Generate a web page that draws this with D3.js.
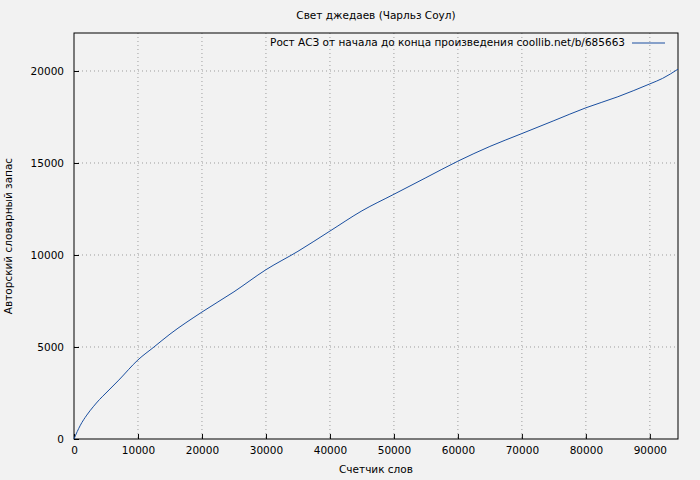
<!DOCTYPE html>
<html lang="ru">
<head>
<meta charset="UTF-8">
<script src="https://d3js.org/d3.v7.min.js"></script>
<style>
body { margin: 0; background: #f2f2f2; }
text { font-family: "DejaVu Sans", sans-serif; font-size: 10.5px; fill: #000; }
</style>
</head>
<body>
<script>
var words = [0, 500, 1000, 2000, 3000, 4000, 5000, 7000, 10000, 12500, 15000, 20000, 25000, 30000, 35000, 40000, 45000, 50000, 55000, 60000, 65000, 70000, 75000, 80000, 85000, 90000, 92000, 94400];
var vocab = [0, 400, 750, 1300, 1750, 2150, 2500, 3200, 4300, 5000, 5700, 6900, 8000, 9200, 10200, 11300, 12400, 13300, 14200, 15100, 15900, 16600, 17300, 18000, 18600, 19300, 19600, 20100];
var xTicks = [0, 10000, 20000, 30000, 40000, 50000, 60000, 70000, 80000, 90000];
var yTicks = [0, 5000, 10000, 15000, 20000];

var width = 700, height = 480;
var m = { left: 74, right: 22, top: 33, bottom: 41 };

var svg = d3.select("body").append("svg")
    .attr("width", width).attr("height", height);
svg.append("rect").attr("width", width).attr("height", height).attr("fill", "#f2f2f2");

var x = d3.scaleLinear().domain([0, 94400]).range([m.left, width - m.right]);
var y = d3.scaleLinear().domain([0, 22065]).range([height - m.bottom, m.top]);

// grid
svg.append("g").selectAll("line").data(xTicks.slice(1)).enter().append("line")
    .attr("x1", d => x(d)).attr("x2", d => x(d))
    .attr("y1", m.top).attr("y2", height - m.bottom)
    .attr("stroke", "#888").attr("stroke-width", 0.8).attr("stroke-dasharray", "1,3");
svg.append("g").selectAll("line").data(yTicks.slice(1)).enter().append("line")
    .attr("x1", m.left).attr("x2", width - m.right)
    .attr("y1", d => y(d)).attr("y2", d => y(d))
    .attr("stroke", "#888").attr("stroke-width", 0.8).attr("stroke-dasharray", "1,3");

var xAxis = svg.append("g")
    .attr("transform", "translate(0," + (height - m.bottom) + ")")
    .call(d3.axisBottom(x).tickValues(xTicks).tickFormat(d3.format("d")).tickSize(-5).tickPadding(8));
var yAxis = svg.append("g")
    .attr("transform", "translate(" + m.left + ",0)")
    .call(d3.axisLeft(y).tickValues(yTicks).tickFormat(d3.format("d")).tickSize(-5).tickPadding(10));
[xAxis, yAxis].forEach(g => {
    g.select(".domain").remove();
    g.selectAll("text").style("font-family", "DejaVu Sans").style("font-size", "10.5px");
});

svg.append("rect")
    .attr("x", m.left).attr("y", m.top)
    .attr("width", width - m.left - m.right).attr("height", height - m.top - m.bottom)
    .attr("fill", "none").attr("stroke", "#000");

svg.append("path")
    .datum(words.map((w, i) => [w, vocab[i]]))
    .attr("fill", "none").attr("stroke", "#1a4fa0").attr("stroke-width", 1)
    .attr("d", d3.line().x(d => x(d[0])).y(d => y(d[1])).curve(d3.curveMonotoneX));

// legend
svg.append("text").attr("x", 625).attr("y", 46).attr("text-anchor", "end")
    .text("Рост АСЗ от начала до конца произведения coollib.net/b/685663");
svg.append("line").attr("x1", 632).attr("x2", 665).attr("y1", 43).attr("y2", 43)
    .attr("stroke", "#1a4fa0");

svg.append("text").attr("x", 376).attr("y", 19).attr("text-anchor", "middle")
    .text("Свет джедаев (Чарльз Соул)");
svg.append("text").attr("x", 376).attr("y", 473).attr("text-anchor", "middle")
    .text("Счетчик слов");
svg.append("text").attr("transform", "translate(12,236) rotate(-90)").attr("text-anchor", "middle")
    .text("Авторский словарный запас");
</script>
</body>
</html>
